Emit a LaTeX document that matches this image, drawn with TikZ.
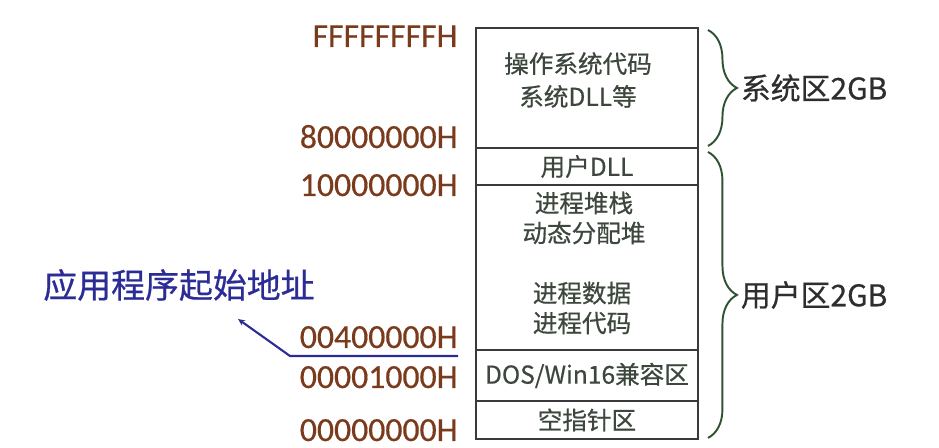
\documentclass[tikz,border=0pt]{standalone}
\usepackage{fontspec}
\setmainfont[FakeBold=0.6]{Noto Sans CJK SC}
\newfontfamily\addrfont[FakeBold=0.4]{Carlito}
\usetikzlibrary{positioning,arrows.meta,decorations.pathreplacing}
\definecolor{addrbrown}{HTML}{7A3A1C}
\definecolor{boxgray}{HTML}{3A3A3A}
\definecolor{boxtext}{HTML}{3D473D}
\definecolor{bracegreen}{HTML}{2F5233}
\definecolor{startblue}{HTML}{2C2C96}

\begin{document}
\begin{tikzpicture}[x=0.02cm,y=-0.02cm,>={Stealth[length=4pt,width=3.5pt]},
   seg/.style={draw=boxgray,line width=1.1pt,minimum width=4.44cm,
     outer sep=0pt,inner sep=0pt,text=boxtext,font=\fontsize{14}{17}\selectfont},
   boxtxt/.style={align=center,inner sep=0pt,text=boxtext},
   addr/.style={anchor=base east,inner sep=0pt,text=addrbrown,
     font=\addrfont\fontsize{19.2}{22}\selectfont},
   region/.style={inner sep=0pt,text=black!82,font=\fontsize{17}{20}\selectfont},
   brc/.style={draw=bracegreen,line width=1.1pt,decorate,
     decoration={brace,amplitude=0.58cm}},
   ptr/.style={draw=startblue,line width=1.2pt}]
  \useasboundingbox (0,0) rectangle (939,448);
  % memory layout, top to bottom
  \node[seg,minimum height=2.4cm,anchor=north west] (sys) at (476,28) {};
  \node[seg,minimum height=0.74cm] (udll) [below=0pt of sys] {用户DLL};
  \node[seg,minimum height=3.3cm] (proc) [below=0pt of udll] {};
  \node[seg,minimum height=1.02cm] (dos) [below=0pt of proc] {DOS/Win16兼容区};
  \node[seg,minimum height=0.76cm] (nul) [below=0pt of dos] {空指针区};
  \node[boxtxt,font=\fontsize{14}{18.7}\selectfont] (sysTxt) at (578,80) {操作系统代码\\系统DLL等};
  \node[boxtxt,font=\fontsize{14}{17}\selectfont] (stackTxt) at (584,218) {进程堆栈\\动态分配堆};
  \node[boxtxt,font=\fontsize{14}{17}\selectfont] (codeTxt) at (582,308) {进程数据\\进程代码};
  % addresses
  \node[addr] (aF) at (458,47) {FFFFFFFFH};
  \node[addr] (a8) at (458,148) {80000000H};
  \node[addr] (a1) at (458,196) {10000000H};
  \node[addr] (a4) at (458,348) {00400000H};
  \node[addr] (a0) at (458,388) {00001000H};
  \node[addr] (aZ) at (458,441) {00000000H};
  % start address
  \node[inner sep=0pt,anchor=west,text=startblue,font=\fontsize{19.3}{22}\selectfont]
    (start) at (43,285) {应用程序起始地址};
  \coordinate (ptrR) at (458,356);
  \coordinate (ptrL) at (290,356);
  \coordinate (ptrTip) at (238,319);
  \draw[ptr,->] (ptrR) -- (ptrL) -- (ptrTip);
  % braces
  \draw[brc] ([xshift=0.2cm,yshift=-0.04cm]sys.north east) -- ([xshift=0.2cm,yshift=0.04cm]sys.south east)
    node[region,midway,right=0.64cm] (sysLbl) {系统区2GB};
  \draw[brc] ([xshift=0.2cm,yshift=-0.08cm]udll.north east) -- ([xshift=0.2cm,yshift=0.02cm]nul.south east)
    node[region,midway,right=0.64cm] (userLbl) {用户区2GB};
\end{tikzpicture}
\end{document}
